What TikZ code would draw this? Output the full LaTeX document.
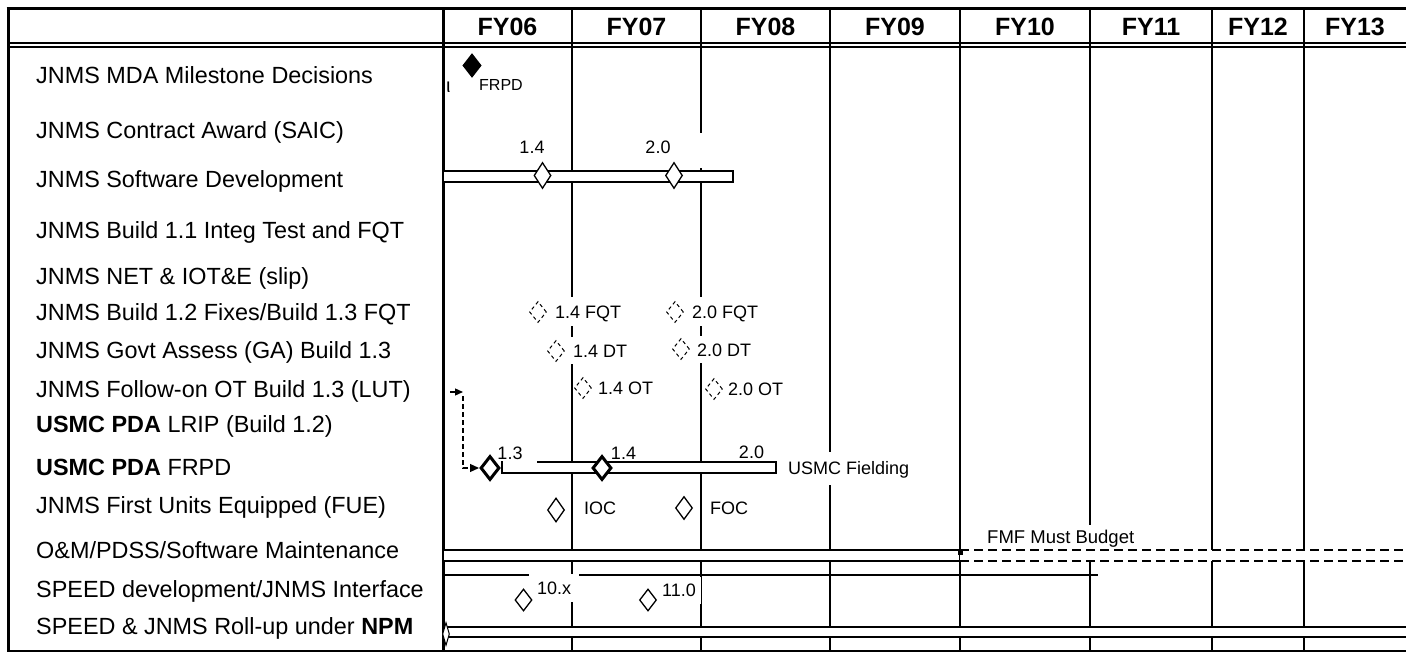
\documentclass[tikz,border=0pt]{standalone}
\usepackage{fontspec}
\setmainfont{Liberation Sans}
\usetikzlibrary{shapes.geometric,arrows.meta}
\begin{document}
\begin{tikzpicture}[x=1pt,y=-1pt,
  gridline/.style={line width=2pt},
  thickline/.style={line width=3pt},
  rowlbl/.style={anchor=west,inner sep=0pt,font=\fontsize{23.4}{28}\selectfont,text height=16.8pt,text depth=0pt},
  hdr/.style={anchor=base,inner sep=0pt,font=\bfseries\fontsize{25}{30}\selectfont},
  sm/.style={inner sep=0pt,font=\fontsize{18}{21}\selectfont,text height=13pt,text depth=0pt},
  wsm/.style={sm,fill=white,inner xsep=3pt,inner ysep=8pt},
  ms/.style={diamond,draw,fill=white,line width=1.3pt,inner sep=0pt,minimum width=17pt,minimum height=26pt},
  msdash/.style={ms,line width=1pt,dash pattern=on 3.5pt off 3pt,minimum height=21pt},
  msbold/.style={ms,line width=3pt,minimum width=19pt,minimum height=24pt},
  barbox/.style={draw,fill=white,line width=1.3pt},
  dashbar/.style={line width=2pt,dash pattern=on 9pt off 5pt},
  tip/.style={-{Triangle[length=9pt,width=8pt]}}
]
\useasboundingbox (0,0) rectangle (1406,652);

% ---------- grid ----------
\foreach \x in {572,701,830,960,1090,1212,1304} \draw[gridline] (\x,9) -- (\x,651);
\draw[thickline] (443,9) -- (443,651);
\draw[thickline] (8,7.5) -- (8,652);
\draw[thickline] (6.5,9) -- (1406,9);
\draw[gridline] (8,43) -- (1406,43);
\draw[gridline] (8,47) -- (1406,47);
\draw[gridline] (8,650.5) -- (1406,650.5);

% ---------- header ----------
\node[hdr] (h06) at (507.5,36) {FY06};
\node[hdr] (h07) at (636.5,36) {FY07};
\node[hdr] (h08) at (765.5,36) {FY08};
\node[hdr] (h09) at (895,36) {FY09};
\node[hdr] (h10) at (1025,36) {FY10};
\node[hdr] (h11) at (1151,36) {FY11};
\node[hdr] (h12) at (1258,36) {FY12};
\node[hdr] (h13) at (1355,36) {FY13};

% ---------- row labels ----------
\node[rowlbl] (r1) at (36,75) {JNMS MDA Milestone Decisions};
\node[rowlbl] (r2) at (36,130) {JNMS Contract Award (SAIC)};
\node[rowlbl] (r3) at (36,179) {JNMS Software Development};
\node[rowlbl] (r4) at (36,230) {JNMS Build 1.1 Integ Test and FQT};
\node[rowlbl] (r5) at (36,276) {JNMS NET \& IOT\&E (slip)};
\node[rowlbl] (r6) at (36,312) {JNMS Build 1.2 Fixes/Build 1.3 FQT};
\node[rowlbl] (r7) at (36,350) {JNMS Govt Assess (GA) Build 1.3};
\node[rowlbl] (r8) at (36,389) {JNMS Follow-on OT Build 1.3 (LUT)};
\node[rowlbl] (r9) at (36,424) {\textbf{USMC PDA} LRIP (Build 1.2)};
\node[rowlbl] (r10) at (36,467) {\textbf{USMC PDA} FRPD};
\node[rowlbl] (r11) at (36,505) {JNMS First Units Equipped (FUE)};
\node[rowlbl] (r12) at (36,550) {O\&M/PDSS/Software Maintenance};
\node[rowlbl] (r13) at (36,589) {SPEED development/JNMS Interface};
\node[rowlbl] (r14) at (36,626) {SPEED \& JNMS Roll-up under \textbf{NPM}};

% ---------- bars ----------
\draw[barbox] (443,171) rectangle (733,182);
\draw[barbox] (502,462) rectangle (776,473);
\draw[barbox] (443,550) rectangle (960,561);
\fill[white] (960,550) rectangle (1406,561);
\draw[dashbar] (960,550) -- (1406,550);
\draw[dashbar] (960,561) -- (1406,561);
\fill (958,549) rectangle (963,555);
\draw[line width=1.3pt] (443,575) -- (1098,575);
\draw[barbox] (443,627) rectangle (1412,637);

% ---------- labels ----------
\node[sm,anchor=west,fill=white,inner xsep=1.5pt,inner ysep=3pt,text height=14pt,font=\fontsize{20}{22}\selectfont] (iota) at (444.5,86) {ι};
\node[sm,anchor=west,text height=11.5pt,font=\fontsize{16}{18}\selectfont] (frpdl) at (479,85) {FRPD};
\fill[white] (694,133) rectangle (705,168);
\node[sm] (l14) at (532,147) {1.4};
\node[sm] (l20) at (658,147) {2.0};
\node[wsm,anchor=west] (tf14) at (552,312) {1.4 FQT};
\node[wsm,anchor=west] (tf20) at (689,312) {2.0 FQT};
\node[wsm,anchor=west,inner ysep=7pt] (td14) at (570,351) {1.4 DT};
\node[wsm,anchor=west,inner ysep=7pt] (td20) at (694,350) {2.0 DT};
\node[sm,anchor=west] (to14) at (598,388) {1.4 OT};
\node[sm,anchor=west] (to20) at (728,389) {2.0 OT};
\fill[white] (503,455) rectangle (537,463);
\node[sm] (b13) at (510,453) {1.3};
\node[sm] (b14) at (623.5,453) {1.4};
\node[sm] (b20) at (751.5,452) {2.0};
\node[wsm,anchor=west,inner ysep=10pt] (usmcf) at (785,468) {USMC Fielding};
\node[sm,anchor=west] (iocl) at (584,508) {IOC};
\node[sm,anchor=west] (focl) at (710,508) {FOC};
\node[wsm,anchor=west,inner ysep=5pt,text height=13.3pt,font=\fontsize{18.5}{21}\selectfont] (fmf) at (984,537) {FMF Must Budget};
\node[wsm,anchor=west,inner xsep=8pt,inner ysep=7.5pt] (l10x) at (529,588) {10.x};
\node[wsm,anchor=west,inner xsep=5pt,inner ysep=7pt] (l11) at (657,590) {11.0};

% ---------- milestones ----------
\node[ms,fill=black,minimum width=18pt,minimum height=23pt] (mda) at (472,65.5) {};
\node[ms] (sw14) at (542.5,175.5) {};
\node[ms] (sw20) at (674,175.5) {};
\node[msdash] (fqt14) at (538,312) {};
\node[msdash] (fqt20) at (675,312) {};
\node[msdash] (dt14) at (556,351) {};
\node[msdash] (dt20) at (681,349) {};
\node[msdash] (ot14) at (583,388) {};
\node[msdash] (ot20) at (714,389) {};
\node[msbold] (fr13) at (490,468) {};
\node[msbold] (fr14) at (602,468) {};
\node[ms,minimum height=24pt] (ioc) at (556,510) {};
\node[ms,minimum height=23pt] (foc) at (684,508) {};
\node[ms,minimum height=22pt] (s10) at (523.5,600) {};
\node[ms,minimum height=22pt] (s11) at (648,600) {};
\node[ms,minimum width=7pt,minimum height=23pt,line width=1pt] (ru) at (446,634) {};

% ---------- connector ----------
\coordinate (a0) at (450,392);
\coordinate (a1) at (463,392);
\coordinate (a2) at (463,396);
\draw[line width=1.3pt,-{Triangle[length=8pt,width=7pt]}] (a0) -- (a1);
\draw[line width=1.2pt,dash pattern=on 5pt off 3pt,tip] (a2) |- (fr13.west);
\end{tikzpicture}
\end{document}
